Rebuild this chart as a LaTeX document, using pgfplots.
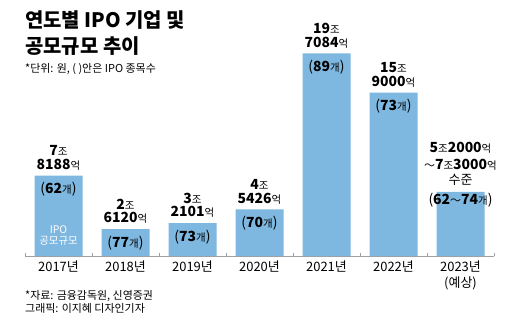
\documentclass[border=0pt]{standalone}
\usepackage{fontspec}
\setmainfont{Noto Sans CJK KR}
\usepackage{pgfplots}
\pgfplotsset{compat=1.18}
\definecolor{barblue}{RGB}{126,183,223}
\definecolor{axgray}{RGB}{160,160,160}
\newcommand{\B}[1]{{\fontsize{14}{16}\selectfont\bfseries #1}}
\newcommand{\U}[1]{{\fontsize{10.5}{12}\selectfont #1}}
\newcommand{\PR}[1]{{\fontsize{14}{16}\selectfont(}\B{#1}\U{개}{\fontsize{14}{16}\selectfont)}}
\begin{document}
\begin{tikzpicture}[x=1bp,y=-1bp]
\path[use as bounding box] (0,0) rectangle (520,325);
\node[anchor=west,inner sep=0pt,font=\fontsize{20}{23}\selectfont\bfseries] at (25,20) {연도별 IPO 기업 및};
\node[anchor=west,inner sep=0pt,font=\fontsize{20}{23}\selectfont\bfseries] at (25,46.5) {공모규모 추이};
\node[anchor=west,inner sep=0pt,font=\fontsize{11}{13}\selectfont] at (25,69.5) {*단위: 원, ( )안은 IPO 종목수};
\node[anchor=west,inner sep=0pt,font=\fontsize{11}{13}\selectfont] at (25,295.5) {*자료: 금융감독원, 신영증권};
\node[anchor=west,inner sep=0pt,font=\fontsize{11}{13}\selectfont] at (25,308) {그래픽: 이지혜 디자인기자};
\begin{axis}[at={(25bp,-256bp)}, anchor=south west, scale only axis,
  width=469bp, height=205.6bp,
  xmin=-0.5, xmax=6.5, ymin=0, ymax=20,
  axis y line=none, axis x line*=bottom,
  x axis line style={axgray, line width=0.7pt, -},
  xtick={0,...,6},
  xticklabels={2017년,2018년,2019년,2020년,2021년,2022년,{2023년\\(예상)}},
  major tick length=0pt,
  minor xtick={-0.5,0.5,...,6.5}, minor tick length=3bp, tick align=inside,
  minor tick style={axgray, line width=0.7pt},
  xticklabel style={font=\fontsize{13}{15.5}\selectfont, align=center, anchor=north, inner sep=0pt, yshift=-5bp},
  clip=false]
\addplot[ybar, bar width=48bp, fill=barblue, draw=none] coordinates {
 (0,7.8188) (1,2.612) (2,3.2101) (3,4.5426) (4,19.7084) (5,15.9) (6,6.25)};
% 2017
\node at (axis cs:0,7.8188) [yshift=25bp] {\B{7}\U{조}};
\node at (axis cs:0,7.8188) [yshift=11bp] {\B{8188}\U{억}};
\node at (axis cs:0,7.8188) [yshift=-14bp] {\PR{62}};
\node[text=white,font=\fontsize{10.5}{12}\selectfont] at (axis cs:0,0) [yshift=26bp] {IPO};
\node[text=white,font=\fontsize{10.5}{12}\selectfont] at (axis cs:0,0) [yshift=15bp] {공모규모};
% 2018
\node at (axis cs:1,2.612) [yshift=25bp] {\B{2}\U{조}};
\node at (axis cs:1,2.612) [yshift=11bp] {\B{6120}\U{억}};
\node at (axis cs:1,2.612) [yshift=-14bp] {\PR{77}};
% 2019
\node at (axis cs:2,3.2101) [yshift=25bp] {\B{3}\U{조}};
\node at (axis cs:2,3.2101) [yshift=11bp] {\B{2101}\U{억}};
\node at (axis cs:2,3.2101) [yshift=-14bp] {\PR{73}};
% 2020
\node at (axis cs:3,4.5426) [yshift=25bp] {\B{4}\U{조}};
\node at (axis cs:3,4.5426) [yshift=11bp] {\B{5426}\U{억}};
\node at (axis cs:3,4.5426) [yshift=-14bp] {\PR{70}};
% 2021
\node at (axis cs:4,19.7084) [yshift=25bp] {\B{19}\U{조}};
\node at (axis cs:4,19.7084) [yshift=11bp] {\B{7084}\U{억}};
\node at (axis cs:4,19.7084) [yshift=-14bp] {\PR{89}};
% 2022
\node at (axis cs:5,15.9) [yshift=25bp] {\B{15}\U{조}};
\node at (axis cs:5,15.9) [yshift=11bp] {\B{9000}\U{억}};
\node at (axis cs:5,15.9) [yshift=-14bp] {\PR{73}};
% 2023
\node at (axis cs:6,6.25) [yshift=44bp] {\B{5}\U{조}\B{2000}\U{억}};
\node at (axis cs:6,6.25) [yshift=27bp] {{\fontsize{11}{13}\selectfont ～}\B{7}\U{조}\B{3000}\U{억}};
\node at (axis cs:6,6.25) [yshift=12bp] {{\fontsize{13}{15}\selectfont 수준}};
\node at (axis cs:6,6.25) [yshift=-8bp] {\PR{62{\mdseries\fontsize{11}{13}\selectfont ～}74}};
\end{axis}
\end{tikzpicture}
\end{document}
